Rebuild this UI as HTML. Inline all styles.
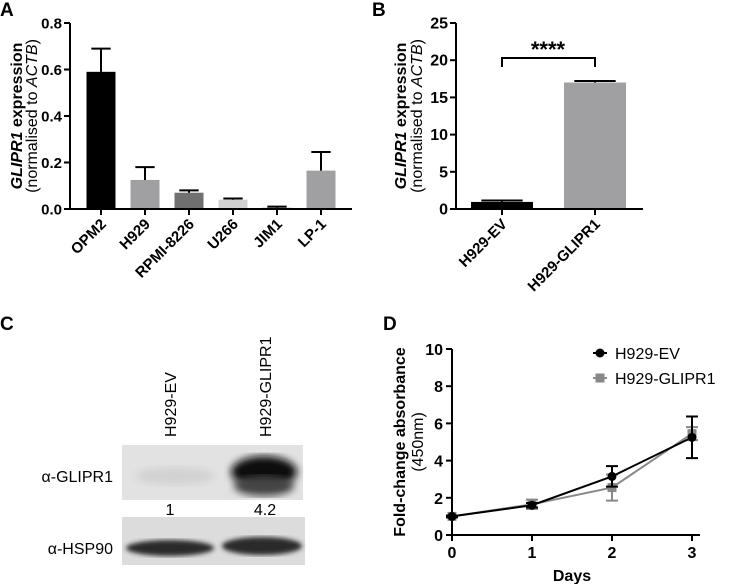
<!DOCTYPE html>
<html><head><meta charset="utf-8"><style>
body{margin:0;background:#fff;}
svg{display:block;font-family:"Liberation Sans",Arial,sans-serif;}
.b{font-weight:bold;}
</style></head><body>
<svg id="fig" width="733" height="584" viewBox="0 0 733 584">
<defs>
<filter id="blur3"><feGaussianBlur stdDeviation="4"/></filter>
<filter id="blur2"><feGaussianBlur stdDeviation="2.5"/></filter>
</defs>
<text x="0" y="16" font-size="19" class="b">A</text>
<text x="372" y="16" font-size="19" class="b">B</text>
<text x="0" y="330" font-size="19" class="b">C</text>
<text x="383" y="330" font-size="19" class="b">D</text>
<g id="pa"></g>
<g id="pb"></g>
<g id="pd"></g>
<g>
<text transform="translate(176,437) rotate(-90)" font-size="16">H929-EV</text>
<text transform="translate(271,437) rotate(-90)" font-size="16">H929-GLIPR1</text>
<rect x="122" y="445" width="181" height="55" fill="#e2e2e2"/>
<ellipse cx="175" cy="476" rx="40" ry="9" fill="#d2d2d2" filter="url(#blur3)"/>
<ellipse cx="264" cy="472" rx="33" ry="16" fill="#111" filter="url(#blur3)"/>
<ellipse cx="264" cy="486" rx="30" ry="10" fill="#444" filter="url(#blur3)"/>
<rect x="122" y="517" width="183" height="48" fill="#dcdcdc"/>
<ellipse cx="170" cy="548" rx="44" ry="8" fill="#2a2a2a" filter="url(#blur2)"/>
<ellipse cx="262" cy="546" rx="40" ry="9" fill="#2a2a2a" filter="url(#blur2)"/>
<text x="113" y="482" font-size="16" text-anchor="end">α-GLIPR1</text>
<text x="113" y="554" font-size="16" text-anchor="end">α-HSP90</text>
<text x="170" y="515" font-size="16" text-anchor="middle">1</text>
<text x="265" y="515" font-size="16" text-anchor="middle">4.2</text>
</g>
</svg>
<script>
const NS="http://www.w3.org/2000/svg";
function mk(p,t,a,txt){const e=document.createElementNS(NS,t);for(const k in a)e.setAttribute(k,a[k]);if(txt!==undefined)e.textContent=txt;p.appendChild(e);return e;}

// Panel A data
const aCats=["OPM2","H929","RPMI-8226","U266","JIM1","LP-1"];
const aVals=[0.59,0.125,0.07,0.04,0.005,0.165];
const aErr=[0.10,0.055,0.01,0.005,0.005,0.08];
const aColors=["#000","#a0a0a2","#707070","#d0d0d0","#555","#a0a0a2"];
const aTicks=[0,0.2,0.4,0.6,0.8];
// Panel B data
const bCats=["H929-EV","H929-GLIPR1"];
const bVals=[0.95,17.0];
const bErr=[0.2,0.2];
const bColors=["#000","#a0a0a2"];
const bTicks=[0,5,10,15,20,25];
// Panel D data
const dDays=[0,1,2,3];
const dEv=[1.0,1.6,3.15,5.25];
const dEvErr=[0.05,0.12,0.55,1.12];
const dGl=[1.0,1.65,2.55,5.45];
const dGlErr=[0.05,0.25,0.7,0.35];
const dTicks=[0,2,4,6,8,10];

function barPanel(g,cats,vals,errs,cols,ticks,ax,x0,x1,yTop,yBot,ymax,step,bw,first,dec,tf){
  const y=v=>yBot-(v/ymax)*(yBot-yTop);
  const cx=i=>first+i*step;
  cats.forEach((c,i)=>{
    const r=mk(g,"rect",{x:cx(i)-bw/2,y:y(vals[i]),width:bw,height:yBot-y(vals[i]),fill:cols[i]});
    
    
    const e=mk(g,"path",{d:`M${cx(i)},${y(vals[i])}V${y(vals[i]+errs[i])}M${cx(i)-bw/3},${y(vals[i]+errs[i])}H${cx(i)+bw/3}`,stroke:"#000","stroke-width":2,fill:"none"});
    
    
    mk(g,"line",{x1:cx(i),x2:cx(i),y1:yBot,y2:yBot+6,stroke:"#000","stroke-width":2});
    const t=mk(g,"text",{transform:`translate(${cx(i)+6},${yBot+16}) rotate(-45)`,"font-size":15,"text-anchor":"end","font-weight":"bold"},c);
    
    
  });
  ticks.forEach(v=>{
    mk(g,"line",{x1:ax-6,x2:ax,y1:y(v),y2:y(v),stroke:"#000","stroke-width":2});
    const t=mk(g,"text",{x:ax-8,y:y(v)+5.5,"font-size":tf,"text-anchor":"end","font-weight":"bold"},v.toFixed(dec));
    
    
  });
  mk(g,"path",{d:`M${ax},${yTop}V${yBot}H${x1}`,stroke:"#000","stroke-width":2,fill:"none"});
  return y;
}
const ga=document.getElementById("pa");
barPanel(ga,aCats,aVals,aErr,aColors,aTicks,70,70,352,23,209,0.8,44,29,101,1,15);
let t=mk(ga,"text",{transform:"translate(22,116) rotate(-90)","font-size":16,"text-anchor":"middle"});
t.innerHTML='<tspan font-weight="bold" font-style="italic">GLIPR1</tspan><tspan font-weight="bold"> expression</tspan>';

t=mk(ga,"text",{transform:"translate(37,116) rotate(-90)","font-size":16,"text-anchor":"middle"});
t.innerHTML='(normalised to <tspan font-style="italic">ACTB</tspan>)';


const gb=document.getElementById("pb");
const yb=barPanel(gb,bCats,bVals,bErr,bColors,bTicks,456,456,643,23,209,25,93,62,502,0,16);
t=mk(gb,"text",{transform:"translate(406,116) rotate(-90)","font-size":16,"text-anchor":"middle"});
t.innerHTML='<tspan font-weight="bold" font-style="italic">GLIPR1</tspan><tspan font-weight="bold"> expression</tspan>';

t=mk(gb,"text",{transform:"translate(422,116) rotate(-90)","font-size":16,"text-anchor":"middle"});
t.innerHTML='(normalised to <tspan font-style="italic">ACTB</tspan>)';

t=mk(gb,"path",{d:"M502,67V58H595V67",stroke:"#000","stroke-width":2,fill:"none"});

t=mk(gb,"text",{x:548,y:57,"font-size":22,"text-anchor":"middle","font-weight":"bold"},"****");


// Panel D
const gd=document.getElementById("pd");
const dx=d=>452+d*80, dy=v=>535-v*18.6;
dTicks.forEach(v=>{
  mk(gd,"line",{x1:446,x2:452,y1:dy(v),y2:dy(v),stroke:"#000","stroke-width":2});
  const tt=mk(gd,"text",{x:443,y:dy(v)+6,"font-size":16,"text-anchor":"end","font-weight":"bold"},v);
  
});
dDays.forEach(d=>{
  mk(gd,"line",{x1:dx(d),x2:dx(d),y1:535,y2:541,stroke:"#000","stroke-width":2});
  const tt=mk(gd,"text",{x:dx(d),y:558,"font-size":16,"text-anchor":"middle","font-weight":"bold"},d);
  
});
mk(gd,"path",{d:"M452,349V535H700",stroke:"#000","stroke-width":2,fill:"none"});
t=mk(gd,"text",{x:572,y:581,"font-size":16,"text-anchor":"middle","font-weight":"bold"},"Days");

t=mk(gd,"text",{transform:"translate(405,442) rotate(-90)","font-size":16,"text-anchor":"middle","font-weight":"bold"},"Fold-change absorbance");

t=mk(gd,"text",{transform:"translate(423,442) rotate(-90)","font-size":16,"text-anchor":"middle"},"(450nm)");

function series(vals,errs,col,sq,name){
  const s=mk(gd,"g",{});
  
  
  mk(s,"polyline",{points:dDays.map((d,i)=>dx(d)+","+dy(vals[i])).join(" "),fill:"none",stroke:col,"stroke-width":2});
  dDays.forEach((d,i)=>{
    mk(s,"path",{d:`M${dx(d)},${dy(vals[i]-errs[i])}V${dy(vals[i]+errs[i])}M${dx(d)-6},${dy(vals[i]-errs[i])}h12M${dx(d)-6},${dy(vals[i]+errs[i])}h12`,stroke:col,"stroke-width":2,fill:"none"});
    const m=sq?mk(s,"rect",{x:dx(d)-4.5,y:dy(vals[i])-4.5,width:9,height:9,fill:col}):mk(s,"circle",{cx:dx(d),cy:dy(vals[i]),r:4.5,fill:col});
    
    
  });
}
series(dGl,dGlErr,"#888",true,"h929-glipr1");
series(dEv,dEvErr,"#000",false,"h929-ev");
const lg=mk(gd,"g",{});


mk(lg,"line",{x1:593,x2:607,y1:353,y2:353,stroke:"#000","stroke-width":2});
mk(lg,"circle",{cx:600,cy:353,r:4.5,fill:"#000"});
t=mk(lg,"text",{x:615,y:359,"font-size":16},"H929-EV");

mk(lg,"line",{x1:593,x2:607,y1:378,y2:378,stroke:"#888","stroke-width":2});
mk(lg,"rect",{x:595.5,y:373.5,width:9,height:9,fill:"#888"});
t=mk(lg,"text",{x:615,y:384,"font-size":16},"H929-GLIPR1");

</script>
</body></html>
